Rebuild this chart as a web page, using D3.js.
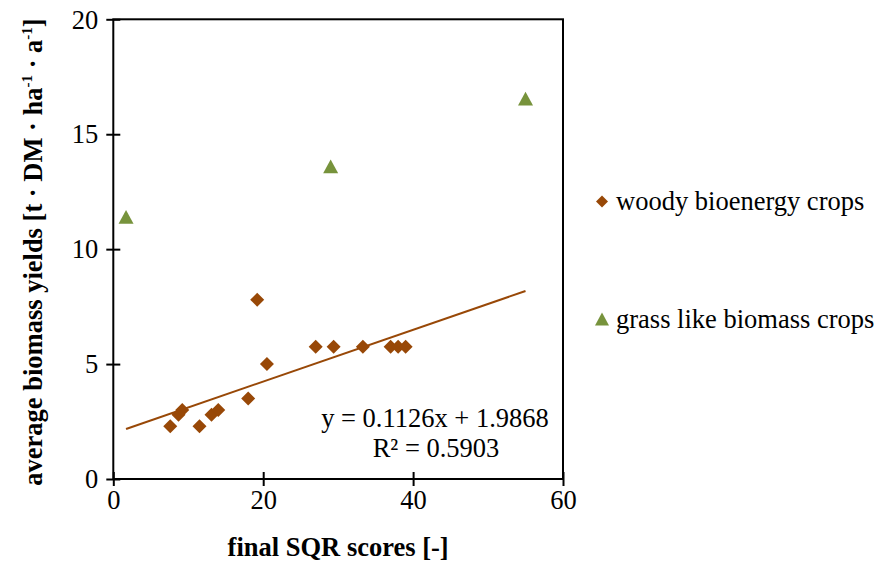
<!DOCTYPE html>
<html><head><meta charset="utf-8">
<script src="https://cdn.jsdelivr.net/npm/d3@7"></script>
<style>
html,body{margin:0;padding:0;background:#fff;}
svg{display:block;}
svg text{font-family:"Liberation Serif","Times New Roman",serif;}
</style></head>
<body>
<svg id="chart" width="880" height="568"></svg>
<script>
// ---- data ----
const woodyX = [7.6, 8.7, 9.2, 11.5, 13.1, 14.0, 18.0, 19.2, 20.5, 27.0, 29.4, 33.3, 37.0, 38.0, 39.0];
const woodyY = [2.3, 2.8, 3.0, 2.3, 2.8, 3.0, 3.5, 7.8, 5.0, 5.75, 5.75, 5.75, 5.75, 5.75, 5.75];
const grassX = [1.7, 29.0, 55.0];
const grassY = [11.4, 13.6, 16.55];
const xTicks = [0, 20, 40, 60];
const yTicks = [0, 5, 10, 15, 20];
const trendSlope = 0.1126;
const trendIntercept = 1.9868;
const seriesNames = ["woody bioenergy crops", "grass like biomass crops"];
const eqText = "y = 0.1126x + 1.9868";
const r2Text = "R² = 0.5903";

const brown = "#984807", green = "#77933C";
const svg = d3.select("#chart");
const L = 113.3, R = 563, T = 19.3, B = 479;
const x = d3.scaleLinear().domain([0, 60]).range([L, R]);
const y = d3.scaleLinear().domain([0, 20]).range([B, T]);
const FS = 26.5;
const FF = '"Liberation Serif","Times New Roman",serif';

// custom symbols
const diamond = {draw(ctx, size){ const r = Math.sqrt(size)/2; ctx.moveTo(0,-r); ctx.lineTo(r,0); ctx.lineTo(0,r); ctx.lineTo(-r,0); ctx.closePath(); }};
const tri = {draw(ctx, size){ const w = Math.sqrt(size); const h = w*0.92; ctx.moveTo(0,-h/2); ctx.lineTo(w/2,h/2); ctx.lineTo(-w/2,h/2); ctx.closePath(); }};

// frame
svg.append("rect").attr("x", L).attr("y", T).attr("width", R-L).attr("height", B-T)
  .attr("fill", "none").attr("stroke", "#000").attr("stroke-width", 2);

// axes with crossing ticks
const xAxis = svg.append("g").attr("transform", `translate(0,${B})`)
  .call(d3.axisBottom(x).tickValues(xTicks).tickSize(0).tickFormat(""));
xAxis.attr("font-family", FF);
xAxis.select(".domain").remove();
xAxis.selectAll(".tick line").attr("y1", -7).attr("y2", 7).attr("stroke", "#000").attr("stroke-width", 2);
xAxis.selectAll(".tick").append("text").attr("y", 30).attr("fill", "#000")
  .attr("text-anchor", "middle").style("font-family", FF).style("font-size", FS + "px").text(d => d);

const yAxis = svg.append("g").attr("transform", `translate(${L},0)`)
  .call(d3.axisLeft(y).tickValues(yTicks).tickSize(0).tickFormat(""));
yAxis.attr("font-family", FF);
yAxis.select(".domain").remove();
yAxis.selectAll(".tick line").attr("x1", -7).attr("x2", 7).attr("stroke", "#000").attr("stroke-width", 2);
yAxis.selectAll(".tick").append("text").attr("x", -15).attr("dy", "0.33em").attr("fill", "#000")
  .attr("text-anchor", "end").style("font-family", FF).style("font-size", FS + "px").text(d => d);

// axis titles
svg.append("text").attr("x", (L+R)/2).attr("y", 556).attr("text-anchor", "middle")
  .style("font-size", FS + "px").style("font-weight", "bold").text("final SQR scores [-]");

const yt = svg.append("text").attr("transform", "translate(42,252) rotate(-90)").attr("text-anchor", "middle")
  .style("font-size", FS + "px").style("font-weight", "bold");
yt.append("tspan").text("average biomass yields [t · DM · ha");
yt.append("tspan").attr("dy", -10).style("font-size", "15px").text("-1");
yt.append("tspan").attr("dy", 10).text(" · a");
yt.append("tspan").attr("dy", -10).style("font-size", "15px").text("-1");
yt.append("tspan").attr("dy", 10).text("]");

// trendline
const allX = woodyX.concat(grassX);
const tx = d3.extent(allX);
svg.append("path").datum(tx)
  .attr("d", d3.line().x(d => x(d)).y(d => y(trendSlope*d + trendIntercept)))
  .attr("stroke", brown).attr("stroke-width", 2).attr("fill", "none");

// points
svg.append("g").selectAll("path").data(woodyX.map((v,i)=>[v, woodyY[i]])).join("path")
  .attr("transform", d => `translate(${x(d[0])},${y(d[1])})`)
  .attr("d", d3.symbol().type(diamond).size(196)()).attr("fill", brown);
svg.append("g").selectAll("path").data(grassX.map((v,i)=>[v, grassY[i]])).join("path")
  .attr("transform", d => `translate(${x(d[0])},${y(d[1])})`)
  .attr("d", d3.symbol().type(tri).size(225)()).attr("fill", green);

// equation
svg.append("text").attr("x", 435).attr("y", 427).attr("text-anchor", "middle")
  .style("font-size", FS + "px").text(eqText);
svg.append("text").attr("x", 436).attr("y", 457).attr("text-anchor", "middle")
  .style("font-size", FS + "px").text(r2Text);

// legend
const leg = svg.append("g");
const legY = [201.5, 319];
leg.append("path").attr("transform", `translate(602,${legY[0]})`).attr("d", d3.symbol().type(diamond).size(144)()).attr("fill", brown);
leg.append("path").attr("transform", `translate(602,${legY[1]})`).attr("d", d3.symbol().type(tri).size(196)()).attr("fill", green);
leg.selectAll("text").data(seriesNames).join("text")
  .attr("x", 616).attr("y", (d,i) => legY[i]).attr("dy", "0.33em")
  .style("font-size", FS + "px").text(d => d);
</script>
</body></html>
